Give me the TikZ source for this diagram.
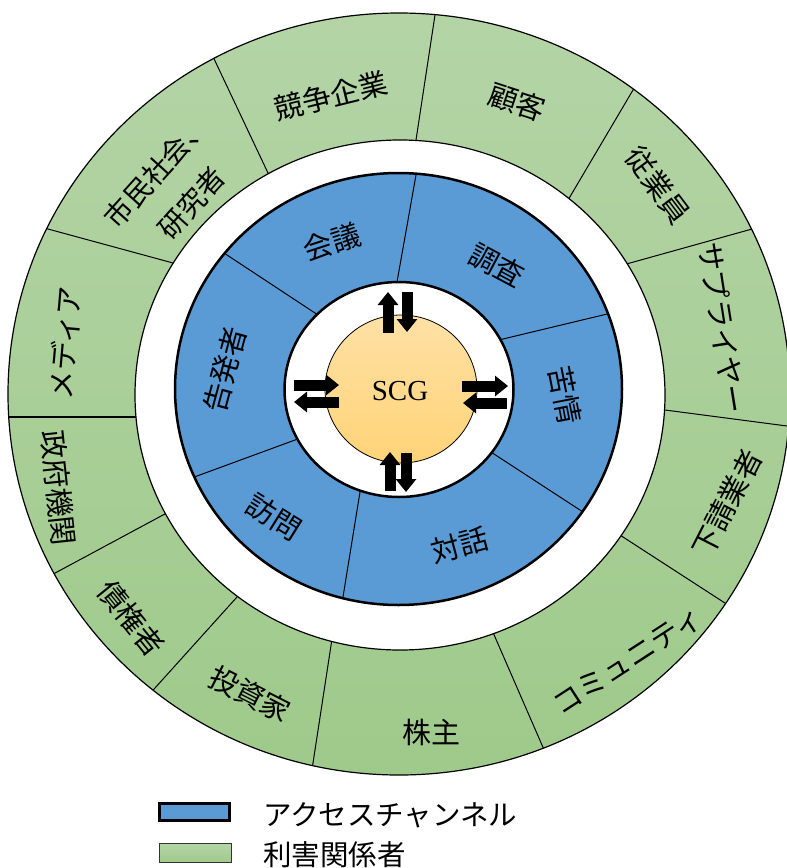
\documentclass[tikz,border=0pt]{standalone}
\usepackage{fontspec}
\setmainfont{Noto Sans CJK JP}
\newfontfamily\scgfont{Liberation Serif}
\usetikzlibrary{arrows.meta}
\definecolor{gtop}{RGB}{180,212,166}
\definecolor{gbot}{RGB}{159,202,139}
\definecolor{chblue}{RGB}{91,155,213}
\definecolor{otop}{RGB}{255,225,165}
\definecolor{obot}{RGB}{255,211,120}
\begin{document}
\begin{tikzpicture}[x=1pt,y=-1pt,
  lbl/.style={font=\fontsize{29}{34}\selectfont, inner sep=0pt, align=center},
  divider/.style={line width=1pt, shorten <=-6pt, shorten >=-6pt},
  blockarr/.style={line width=11pt, -{Triangle[length=13pt,width=20pt]}},
  legtext/.style={font=\fontsize{28.5}{34}\selectfont, inner sep=0pt, anchor=west}
]
\useasboundingbox (0,0) rectangle (787,868);

% ---------- green ring (stakeholders)
\shade[top color=gtop, bottom color=gbot, even odd rule]
  (399,394) ellipse [x radius=391pt, y radius=381pt]
  (400,395) ellipse [x radius=265pt, y radius=255pt];
\begin{scope}
  \clip (399,394) ellipse [x radius=391pt, y radius=381pt];
  \draw[divider] (216,63) -- (268,173);
  \draw[divider] (435,15) -- (416,140);
  \draw[divider] (633,90) -- (571,195);
  \draw[divider] (752,229) -- (630,263);
  \draw[divider] (787,426) -- (665,410);
  \draw[divider] (728,605) -- (623,537);
  \draw[divider] (542,745) -- (495,637);
  \draw[divider] (313,763) -- (332,639);
  \draw[divider] (155,688) -- (237,597);
  \draw[divider] (57,572) -- (163,515);
  \draw[divider, line width=2pt] (10,417) -- (137,417);
  \draw[divider] (48,229) -- (173,263);
\end{scope}
\fill[white] (400,395) ellipse [x radius=265pt, y radius=255pt];
\draw[line width=1.2pt] (399,394) ellipse [x radius=391pt, y radius=381pt];
\draw[line width=1.2pt] (400,395) ellipse [x radius=265pt, y radius=255pt];

% ---------- blue ring (access channels)
\fill[chblue] (398.5,389) ellipse [x radius=223.5pt, y radius=216pt];
\begin{scope}
  \clip (398.5,389) ellipse [x radius=223.5pt, y radius=216pt];
  \draw[divider] (416,175) -- (397,282);
  \draw[divider] (227,255) -- (315,313);
  \draw[divider] (603,315) -- (503,339);
  \draw[divider] (583,512) -- (494,454);
  \draw[divider] (343,597) -- (360,492);
  \draw[divider] (197,476) -- (295,440);
\end{scope}
\fill[white] (399,389.5) ellipse [x radius=114.5pt, y radius=107.5pt];
\draw[line width=2.5pt] (398.5,389) ellipse [x radius=223.5pt, y radius=216pt];
\draw[line width=2.5pt] (399,389.5) ellipse [x radius=114.5pt, y radius=107.5pt];

% ---------- centre
\shadedraw[top color=otop, bottom color=obot, draw=black, line width=0.8pt]
  (401,389) ellipse [x radius=76pt, y radius=74pt];
\node[font=\scgfont\fontsize{29}{34}\selectfont, inner sep=0pt] (scg) at (400,391) {SCG};

% ---------- arrows
\coordinate (ta1) at (388,333); \coordinate (ta2) at (388,292);
\coordinate (tb1) at (407,292); \coordinate (tb2) at (407,332);
\coordinate (ba1) at (390,491); \coordinate (ba2) at (390,452);
\coordinate (bb1) at (406,453); \coordinate (bb2) at (406,492);
\coordinate (la1) at (294,385); \coordinate (la2) at (339,385);
\coordinate (lb1) at (339,402); \coordinate (lb2) at (294,402);
\coordinate (ra1) at (462,386); \coordinate (ra2) at (508,386);
\coordinate (rb1) at (507,403); \coordinate (rb2) at (463,403);
\draw[blockarr] (ta1) -- (ta2);
\draw[blockarr] (tb1) -- (tb2);
\draw[blockarr] (ba1) -- (ba2);
\draw[blockarr] (bb1) -- (bb2);
\draw[blockarr] (la1) -- (la2);
\draw[blockarr] (lb1) -- (lb2);
\draw[blockarr] (ra1) -- (ra2);
\draw[blockarr] (rb1) -- (rb2);

% ---------- stakeholder labels
\node[lbl, font=\fontsize{28}{47}\selectfont, rotate=48] (s1) at (174,187) {市民社会、\\研究者};
\node[lbl, rotate=14] (s2) at (331,96) {競争企業};
\node[lbl, rotate=-18] (s3) at (517,102) {顧客};
\node[lbl, rotate=-53] (s4) at (658,185) {従業員};
\node[lbl, rotate=-81] (s5) at (723,328) {サプライヤー};
\node[lbl, rotate=63] (s6) at (727,503) {下請業者};
\node[lbl, rotate=33] (s7) at (628,661) {コミュニティ};
\node[lbl] (s8) at (431,732) {株主};
\node[lbl, rotate=-27] (s9) at (250,694) {投資家};
\node[lbl, rotate=-51] (s10) at (131,618) {債権者};
\node[lbl, rotate=-84] (s11) at (58,488) {政府機関};
\node[lbl, rotate=85] (s12) at (65,343) {メディア};

% ---------- channel labels
\node[lbl, rotate=18] (c1) at (332,242) {会議};
\node[lbl, rotate=-28] (c2) at (497,265) {調査};
\node[lbl, rotate=-79] (c3) at (565,395) {苦情};
\node[lbl, rotate=15] (c4) at (460,545) {対話};
\node[lbl, rotate=-32] (c5) at (274,517) {訪問};
\node[lbl, rotate=75] (c6) at (225,370) {告発者};

% ---------- legend
\node[draw, line width=3pt, fill=chblue, minimum width=70pt, minimum height=17pt, inner sep=0pt] (lg1) at (194.5,812) {};
\node[draw=black!80, line width=1pt, top color=gtop, bottom color=gbot, minimum width=72pt, minimum height=19pt, inner sep=0pt] (lg2) at (195.5,853) {};
\node[legtext] (lt1) at (263,815) {アクセスチャンネル};
\node[legtext] (lt2) at (263,855) {利害関係者};
\end{tikzpicture}
\end{document}
